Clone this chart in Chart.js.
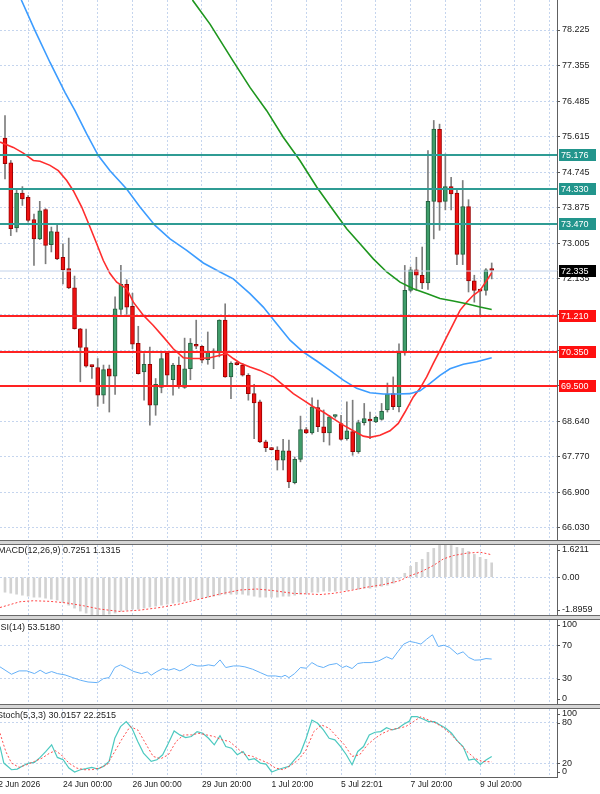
<!DOCTYPE html>
<html>
<head>
<meta charset="utf-8">
<script src="https://cdn.jsdelivr.net/npm/chart.js@4.4.1/dist/chart.umd.min.js"></script>
<style>
  html, body { margin: 0; padding: 0; background: #fff; }
  #wrap { position: relative; width: 600px; height: 794px; overflow: hidden; background: #fff; }
  #wrap canvas { position: absolute; left: 0; }
  .sep { position: absolute; left: 0; width: 600px; height: 3px; background: #d6d6d6;
         border-top: 1px solid #6a6a6a; border-bottom: 1px solid #6a6a6a; }
</style>
</head>
<body>
<div id="wrap">
  <canvas id="main" width="600" height="540" style="top:0"></canvas>
  <div class="sep" style="top:540px"></div>
  <canvas id="macd" width="600" height="70" style="top:545px"></canvas>
  <div class="sep" style="top:615px"></div>
  <canvas id="rsi" width="600" height="84" style="top:620px"></canvas>
  <div class="sep" style="top:704px"></div>
  <canvas id="stoch" width="600" height="85" style="top:709px"></canvas>
</div>
<script>
// H4 candles, index 1..85 (left to right)
const opens = [75.58,74.97,73.38,74.23,74.13,73.58,73.11,73.83,72.97,73.28,72.66,72.38,71.91,70.91,70.45,70.01,69.96,69.28,69.93,69.75,
  71.38,72.00,71.46,70.55,69.85,70.04,69.04,69.47,70.32,69.66,70.02,69.47,69.93,70.53,70.48,70.15,70.32,70.32,71.12,69.73,
  70.07,70.02,69.77,69.32,69.12,68.14,67.99,67.94,67.69,67.92,67.14,67.71,68.44,68.36,68.98,68.51,68.36,68.76,68.59,68.22,
  68.39,67.90,68.61,68.69,68.63,68.69,68.92,69.32,69.00,70.32,71.85,72.35,72.22,72.03,74.03,75.79,74.03,74.39,74.23,72.73,
  73.90,72.08,71.86,71.85,72.35];
const highs = [76.13,75.03,74.33,74.39,74.17,73.72,74.03,73.85,73.40,73.44,72.99,73.13,72.20,70.92,70.90,70.02,70.18,70.02,70.02,71.69,
  72.46,72.11,71.78,70.97,70.30,70.46,69.69,70.32,70.34,70.06,70.22,70.68,70.67,71.12,70.50,70.83,70.42,71.13,71.52,70.10,
  70.10,70.06,69.81,69.55,69.16,68.18,68.00,68.02,68.20,68.18,67.77,68.77,68.49,69.22,69.16,68.92,68.79,68.80,68.79,69.12,
  69.16,68.67,69.08,68.87,68.77,69.08,69.58,69.73,70.54,72.46,72.42,72.66,72.91,75.27,76.01,75.92,75.19,74.62,74.31,74.54,
  74.07,72.22,71.87,72.38,72.52];
const lows = [74.58,73.19,73.28,73.93,73.52,72.46,73.09,72.50,72.79,72.60,72.01,71.89,70.90,69.61,69.97,69.69,69.01,69.08,68.87,69.30,
  71.26,71.26,70.42,69.80,69.16,68.55,68.79,69.34,69.53,69.28,69.45,69.45,69.66,70.42,70.07,70.04,69.93,70.22,69.72,69.20,
  70.02,69.75,69.16,68.22,68.12,67.90,67.94,67.45,67.45,67.02,67.11,67.65,68.34,68.33,68.39,68.14,68.06,68.72,68.18,68.18,
  67.81,67.86,68.55,68.22,68.61,68.67,68.87,68.93,68.87,70.26,71.81,71.85,71.89,71.87,73.11,73.32,73.82,73.82,72.48,72.48,
  71.81,71.56,71.24,71.73,72.13];
const closes = [74.95,73.36,74.23,74.09,73.56,73.11,73.80,72.95,73.29,72.62,72.35,71.91,70.91,70.45,69.99,69.98,69.28,69.91,69.75,71.40,
  72.00,71.44,70.53,69.81,70.04,69.04,69.55,70.18,69.77,70.02,69.49,69.93,70.56,70.48,70.14,70.34,70.37,71.12,69.73,70.06,
  70.03,69.77,69.32,69.09,68.14,68.00,67.95,67.69,67.92,67.16,67.71,68.44,68.36,69.00,68.51,68.36,68.75,68.77,68.20,68.41,
  67.90,68.61,68.71,68.65,68.74,68.89,69.31,69.00,70.32,71.85,72.35,72.22,72.03,74.03,75.80,74.01,74.39,74.21,72.73,73.90,
  72.08,71.85,71.83,72.35,72.335];

// moving averages: [candle index, price]
const maRed = [[0.14,75.48],[2.44,75.35],[4.16,75.21],[5.89,75.03],[7.04,75.01],[8.77,74.91],[10.2,74.78],[11.65,74.54],
  [12.79,74.29],[14.24,73.89],[15.67,73.40],[16.83,72.99],[17.97,72.58],[19.12,72.26],[20.28,72.05],[22.0,71.89],
  [23.15,71.56],[24.87,71.24],[26.6,70.99],[28.32,70.71],[30.05,70.42],[31.77,70.20],[33.22,70.18],[34.66,70.18],
  [36.38,70.20],[38.11,70.26],[39.26,70.30],[40.4,70.18],[41.56,70.07],[43.28,69.97],[45.01,69.89],[47.31,69.73],
  [49.03,69.53],[50.76,69.32],[52.48,69.16],[54.21,69.00],[55.94,68.87],[57.66,68.71],[59.39,68.55],[61.11,68.41],
  [62.84,68.28],[64.0,68.25],[65.72,68.30],[67.45,68.41],[68.88,68.59],[70.04,68.87],[71.47,69.24],[72.63,69.45],
  [73.78,69.73],[74.92,70.06],[76.08,70.38],[77.23,70.71],[78.37,71.03],[79.53,71.36],[80.68,71.56],[81.82,71.73],
  [82.98,71.85],[84.14,72.09],[85.0,72.28]];
const maBlue = [[2.5,79.6],[3.88,78.94],[6.18,78.21],[8.77,77.43],[11.35,76.70],[13.08,76.25],[15.1,75.68],[17.1,75.15],
  [19.12,74.78],[22.0,74.33],[24.3,73.89],[26.89,73.44],[29.48,73.11],[32.36,72.83],[35.23,72.52],[38.11,72.30],
  [40.4,72.13],[43.28,71.77],[45.58,71.44],[47.89,71.03],[50.19,70.63],[52.48,70.34],[54.8,70.12],[57.09,69.89],
  [59.39,69.65],[61.7,69.45],[64.0,69.34],[66.29,69.31],[68.6,69.31],[70.9,69.32],[72.63,69.39],[74.35,69.57],
  [76.08,69.77],[77.8,69.93],[80.1,70.04],[82.41,70.10],[85.0,70.20]];
const maGreen = [[32.5,79.3],[33.45,78.94],[36.38,78.37],[40.35,77.47],[43.28,76.82],[46.17,76.25],[49.03,75.60],
  [51.9,75.03],[54.8,74.38],[57.66,73.81],[59.97,73.36],[62.27,72.99],[64.57,72.62],[66.88,72.30],[69.18,72.05],
  [71.47,71.89],[73.78,71.77],[76.08,71.65],[78.37,71.59],[80.68,71.52],[82.98,71.44],[85.0,71.38]];

const resistLevels = [75.176, 74.330, 73.470];
const supportLevels = [71.210, 70.350, 69.500];
const lastPrice = 72.335;

const priceTicks = [66.030,66.900,67.770,68.640,69.510,70.380,71.250,72.135,73.005,73.875,74.745,75.615,76.485,77.355,78.225];
const priceLabels = ['66.030','66.900','67.770','68.640','69.510','70.380','71.250','72.135','73.005','73.875','74.745','75.615','76.485','77.355','78.225'];

// MACD(12,26,9): histogram per candle, signal read as points
const macdHist = [-0.75,-0.8,-0.85,-0.9,-0.95,-1.0,-1.0,-1.05,-1.1,-1.15,
  -1.25,-1.4,-1.55,-1.7,-1.8,-1.88,-1.89,-1.89,-1.85,-1.8,
  -1.7,-1.65,-1.6,-1.6,-1.55,-1.5,-1.45,-1.4,-1.35,-1.3,
  -1.25,-1.2,-1.15,-1.1,-1.05,-1.0,-0.95,-0.9,-0.85,-0.85,
  -0.85,-0.85,-0.9,-0.95,-1.0,-1.0,-1.0,-1.0,-0.95,-0.95,
  -0.9,-0.85,-0.8,-0.75,-0.75,-0.7,-0.7,-0.7,-0.65,-0.65,
  -0.6,-0.6,-0.55,-0.55,-0.5,-0.45,-0.4,-0.3,-0.1,0.2,
  0.55,0.75,0.9,1.25,1.45,1.6,1.62,1.6,1.5,1.45,
  1.3,1.15,1.0,0.9,0.7251];
const macdSignal = [[0.14,-1.52],[3.59,-1.23],[5.89,-1.18],[8.77,-1.21],[11.64,-1.29],[14.52,-1.43],[17.4,-1.60],
  [20.85,-1.72],[24.3,-1.65],[27.75,-1.52],[31.21,-1.34],[34.66,-1.09],[38.11,-0.84],[41.56,-0.64],[44.44,-0.59],
  [47.32,-0.67],[50.77,-0.81],[53.64,-0.84],[55.36,-0.87],[57.66,-0.81],[60.54,-0.67],[63.42,-0.50],[66.29,-0.37],
  [69.17,-0.17],[70.9,0.08],[72.62,0.25],[74.93,0.59],[76.65,0.92],[78.38,1.09],[80.68,1.21],[82.98,1.26],[85.0,1.1315]];
const macdAxisVals = [1.6211, 0, -1.8959];
const macdAxisLabels = ['1.6211', '0.00', '-1.8959'];

// RSI(14)
const rsiPts = [[0.14,44.2],[2.12,35.4],[3.44,39.4],[4.76,39.4],[6.08,36.2],[7.07,40.2],[8.06,36.2],[9.05,38.6],[10.04,36.2],
  [11.37,34.6],[12.69,31.4],[14.01,28.3],[15.33,26.2],[16.98,25.4],[17.97,30.2],[18.96,31.4],[19.95,43.4],[20.94,46.6],
  [21.93,43.4],[23.25,38.6],[24.57,36.2],[25.57,38.2],[26.23,34.2],[27.22,38.6],[28.21,42.2],[29.2,40.2],[30.19,42.2],
  [31.18,39.4],[31.84,41.4],[33.16,47.4],[34.15,45.3],[35.14,45.3],[36.13,46.6],[37.12,45.3],[38.11,52.5],[39.1,43.4],
  [40.43,45.3],[41.42,45.3],[42.41,44.2],[43.73,41.4],[45.05,37.4],[46.37,33.4],[47.69,33.4],[48.68,32.2],[49.34,34.2],
  [50.0,31.4],[50.99,36.2],[51.99,43.4],[52.98,42.6],[53.97,49.3],[54.96,45.3],[55.95,43.4],[56.94,46.6],[58.26,48.2],
  [59.25,43.4],[59.91,45.3],[60.9,42.2],[61.89,48.2],[62.88,49.3],[64.2,49.3],[65.53,51.4],[66.85,56.2],[67.84,53.3],
  [68.83,62.5],[69.82,71.3],[70.81,74.5],[71.8,73.2],[72.79,71.3],[73.78,77.2],[74.77,82.4],[75.77,68.5],[76.76,70.0],
  [77.75,67.3],[79.07,59.3],[80.06,62.1],[81.05,55.4],[82.04,52.2],[83.03,52.5],[84.02,54.1],[85.0,53.518]];
const rsiAxisVals = [100, 70, 30, 0];
const rsiAxisLabels = ['100', '70', '30', '0'];

// Stochastic(5,3,3)
const stochK = [[0.14,44.8],[0.8,20.5],[2.12,10.7],[3.11,11.7],[4.1,16.6],[5.09,20.5],[6.08,21.5],[7.07,28.8],[8.06,37.6],
  [9.05,47.3],[10.04,28.8],[11.04,25.4],[12.03,13.2],[13.02,7.4],[14.01,10.7],[15.0,12.2],[15.99,14.2],[16.98,11.7],
  [17.97,15.6],[18.96,22.9],[19.95,57.0],[20.94,74.1],[21.93,81.4],[22.92,71.7],[23.91,52.1],[24.9,35.2],[26.23,22.9],
  [27.22,25.4],[28.21,32.7],[29.2,49.7],[30.19,67.8],[31.18,61.9],[32.17,58.0],[33.16,59.5],[34.15,66.8],[35.14,64.3],
  [36.13,57.0],[37.12,47.3],[38.11,60.9],[39.1,44.8],[40.1,42.4],[41.09,32.7],[42.08,37.6],[43.07,25.4],[44.06,26.9],
  [45.05,20.5],[46.04,19.0],[47.03,7.4],[48.02,10.7],[49.0,13.2],[50.0,15.6],[50.99,25.4],[51.99,35.2],[52.98,57.0],
  [53.97,83.8],[54.96,79.0],[55.95,69.2],[56.94,57.0],[57.93,54.6],[58.92,44.8],[59.91,32.7],[60.9,18.1],[61.89,37.6],
  [62.88,44.8],[63.87,61.9],[64.87,65.8],[65.86,66.8],[66.85,72.6],[67.84,69.2],[68.83,71.7],[69.82,77.5],[70.81,82.4],
  [71.14,88.7],[72.13,88.7],[73.12,85.2],[74.11,81.4],[75.1,81.4],[76.09,76.6],[77.08,71.7],[78.08,64.3],[79.07,53.1],
  [80.06,44.8],[81.05,24.9],[82.04,26.5],[83.03,18.3],[84.02,24.9],[85.0,30.0157]];
const stochD = [[0.14,64.3],[1.13,37.6],[2.12,20.5],[3.44,14.2],[4.76,18.1],[6.08,22.9],[7.4,27.8],[8.72,35.2],[9.71,38.6],
  [10.7,32.7],[12.03,20.5],[13.35,13.2],[14.67,10.7],[15.99,10.7],[17.31,13.2],[18.63,18.1],[19.95,37.6],[21.27,57.0],
  [22.59,74.1],[23.91,69.2],[25.24,49.7],[26.56,30.3],[27.88,26.9],[29.2,32.7],[30.52,52.1],[31.84,61.9],[33.16,61.9],
  [34.48,64.3],[35.8,61.9],[37.12,59.5],[38.45,54.6],[39.77,52.1],[41.09,42.4],[42.41,32.7],[43.73,30.3],[45.05,25.4],
  [46.37,20.5],[47.69,13.2],[49.0,10.7],[50.33,17.1],[51.66,25.4],[52.98,40.0],[54.3,66.8],[55.62,76.6],[56.94,71.7],
  [58.26,59.5],[59.58,47.3],[60.9,30.3],[62.22,32.7],[63.54,47.3],[64.87,57.0],[66.19,64.3],[67.51,69.2],[68.83,71.7],
  [70.15,74.1],[71.47,81.4],[72.79,88.7],[74.11,83.8],[75.43,79.0],[76.75,71.7],[78.08,61.9],[79.4,49.7],[80.72,37.6],
  [82.04,27.8],[83.36,22.9],[85.0,22.2515]];
const stochAxisVals = [100, 80, 20, 0];
const stochAxisLabels = ['100', '80', '20', '0'];

// time axis
const timeIdx = [-1, 11, 23, 35, 47, 59, 71, 83];
const timeLabels = ['22 Jun 2026', '24 Jun 00:00', '26 Jun 00:00', '29 Jun 20:00', '1 Jul 20:00', '5 Jul 22:01', '7 Jul 20:00', '9 Jul 20:00'];

const FONT = 'Liberation Sans';
const GRID = '#c5d5ee';
Chart.defaults.font.family = FONT;

const xMin = 0.137, xMax = 96.27;
const gridIdx = [];
for (let v = 5; v <= 95; v += 6) gridIdx.push(v);

function xAxis(withLabels) {
  return {
    type: 'linear', min: xMin, max: xMax, offset: false, bounds: 'data',
    afterBuildTicks: s => { s.ticks = (withLabels ? [-1] : []).concat(gridIdx).map(v => ({ value: v })); },
    afterFit: s => { s.height = withLabels ? 17 : 0; s.paddingLeft = 0; s.paddingRight = 0; },
    grid: { offset: false, drawTicks: false, color: c => (c.tick && c.tick.value < xMin) ? 'rgba(0,0,0,0)' : GRID },
    border: { display: withLabels, color: '#606060', dash: [2, 2] },
    ticks: {
      display: withLabels, autoSkip: false, maxRotation: 0, minRotation: 0, align: 'start', padding: 3,
      color: '#222', font: { size: 8.5 },
      callback: v => { const k = timeIdx.indexOf(v); return k >= 0 ? timeLabels[k] : ''; }
    }
  };
}

function subYAxis(min, max, gridVals) {
  return {
    position: 'right', min, max, beginAtZero: false,
    afterBuildTicks: s => { s.ticks = gridVals.map(v => ({ value: v })); },
    afterFit: s => { s.width = 43; s.paddingTop = 0; s.paddingBottom = 0; },
    grid: { color: GRID, drawTicks: false },
    border: { display: true, color: '#606060', dash: [2, 2] },
    ticks: { display: false }
  };
}

// labels on the right scale kept inside the panel, plus the indicator caption
const panelText = {
  id: 'panelText',
  afterDraw(chart, args, o) {
    const { ctx, chartArea: a } = chart;
    const y = chart.scales.y;
    ctx.save();
    ctx.font = '9px "' + FONT + '"';
    ctx.fillStyle = '#222';
    ctx.textBaseline = 'middle';
    ctx.textAlign = 'left';
    ctx.fillText(o.title, o.titleX, a.top + o.titleDy);
    o.values.forEach((v, k) => {
      const py = Math.min(Math.max(y.getPixelForValue(v), a.top + 5), a.bottom - 5);
      ctx.fillText(o.labels[k], a.right + 5, py);
      ctx.strokeStyle = '#555';
      ctx.beginPath();
      ctx.moveTo(a.right, Math.round(py) + 0.5);
      ctx.lineTo(a.right + 3, Math.round(py) + 0.5);
      ctx.stroke();
    });
    ctx.restore();
  }
};

// horizontal levels and their price boxes
const levelPlugin = {
  id: 'levels',
  afterDatasetsDraw(chart) {
    const { ctx, chartArea: a } = chart;
    const y = chart.scales.y;
    ctx.save();
    const line = (v, color, w) => {
      const py = Math.round(y.getPixelForValue(v));
      ctx.strokeStyle = color;
      ctx.lineWidth = w;
      ctx.beginPath();
      ctx.moveTo(a.left, py);
      ctx.lineTo(a.right, py);
      ctx.stroke();
    };
    line(lastPrice, '#c2d2ea', 1);
    resistLevels.forEach(v => line(v, '#2f9c94', 2));
    supportLevels.forEach(v => line(v, '#ff2222', 2));
    ctx.restore();
  },
  afterDraw(chart) {
    const { ctx, chartArea: a } = chart;
    const y = chart.scales.y;
    ctx.save();
    ctx.font = '9px "' + FONT + '"';
    ctx.textBaseline = 'middle';
    ctx.textAlign = 'left';
    const box = (v, bg) => {
      const py = Math.round(y.getPixelForValue(v));
      ctx.fillStyle = bg;
      ctx.fillRect(a.right + 2, py - 6, 37, 12);
      ctx.fillStyle = '#fff';
      ctx.fillText(v.toFixed(3), a.right + 4, py + 0.5);
    };
    resistLevels.forEach(v => box(v, '#22958c'));
    supportLevels.forEach(v => box(v, '#ff1010'));
    box(lastPrice, '#000');
    ctx.restore();
  }
};

const base = (x, y, plugins) => ({
  responsive: false, animation: false, events: [],
  layout: { padding: 0 },
  plugins: Object.assign({ legend: { display: false }, tooltip: { enabled: false } }, plugins),
  scales: { x, y }
});

const idx = closes.map((_, k) => k + 1);
const up = idx.map((_, k) => closes[k] >= opens[k]);
const toXY = pts => pts.map(p => ({ x: p[0], y: p[1] }));
const lineDs = (pts, color, w, dash) => ({
  type: 'line', data: toXY(pts), borderColor: color, borderWidth: w, borderDash: dash || [],
  pointRadius: 0, tension: 0, fill: false, order: 1
});

// main price panel
new Chart(document.getElementById('main'), {
  type: 'bar',
  data: {
    datasets: [
      { data: idx.map((x, k) => ({ x, y: [lows[k], highs[k]] })), backgroundColor: '#7d7d7d',
        barThickness: 1, grouped: false, order: 4 },
      { data: idx.map((x, k) => ({ x, y: [opens[k], closes[k]] })),
        backgroundColor: up.map(u => u ? '#3f9d6a' : '#ee1111'),
        borderColor: up.map(u => u ? '#24603f' : '#9a0000'),
        borderWidth: 1, borderSkipped: false, barThickness: 4, minBarLength: 2, grouped: false, order: 3 },
      lineDs(maGreen, '#1e961e', 1.6),
      lineDs(maBlue, '#3c9cff', 1.6),
      lineDs(maRed, '#ff2d2d', 1.6)
    ]
  },
  options: base(xAxis(false), {
    position: 'right', min: 65.736, max: 78.96, beginAtZero: false,
    afterBuildTicks: s => { s.ticks = priceTicks.map(v => ({ value: v })); },
    afterFit: s => { s.width = 43; s.paddingTop = 0; s.paddingBottom = 0; },
    grid: { color: GRID, tickColor: '#555', tickLength: 3 },
    border: { display: true, color: '#606060', dash: [2, 2] },
    ticks: { color: '#222', padding: 2, font: { size: 9 },
      callback: v => { const k = priceTicks.indexOf(v); return k >= 0 ? priceLabels[k] : ''; } }
  }, {}),
  plugins: [levelPlugin]
});

// MACD panel
new Chart(document.getElementById('macd'), {
  type: 'bar',
  data: {
    datasets: [
      { data: idx.map((x, k) => ({ x, y: macdHist[k] })), backgroundColor: '#d2d2d2', barThickness: 2, grouped: false, order: 2 },
      lineDs(macdSignal, '#ff4444', 1, [2, 2])
    ]
  },
  options: base(xAxis(false), subYAxis(-1.8959, 1.6211, [0]), {
    panelText: { title: 'MACD(12,26,9) 0.7251 1.1315', titleX: -2, titleDy: 6, values: macdAxisVals, labels: macdAxisLabels }
  }),
  plugins: [panelText]
});

// RSI panel
new Chart(document.getElementById('rsi'), {
  type: 'line',
  data: { datasets: [lineDs(rsiPts, '#64b0f8', 1)] },
  options: base(xAxis(false), subYAxis(0, 100, [70, 30]), {
    panelText: { title: 'RSI(14) 53.5180', titleX: -6, titleDy: 8, values: rsiAxisVals, labels: rsiAxisLabels }
  }),
  plugins: [panelText]
});

// Stochastic panel with the time axis
new Chart(document.getElementById('stoch'), {
  type: 'line',
  data: { datasets: [lineDs(stochD, '#ff4d4d', 1, [2, 2]), lineDs(stochK, '#4cc9c0', 1.2)] },
  options: base(xAxis(true), subYAxis(0, 100, [80, 20]), {
    panelText: { title: 'Stoch(5,3,3) 30.0157 22.2515', titleX: -3, titleDy: 7, values: stochAxisVals, labels: stochAxisLabels }
  }),
  plugins: [panelText]
});
</script>
</body>
</html>
